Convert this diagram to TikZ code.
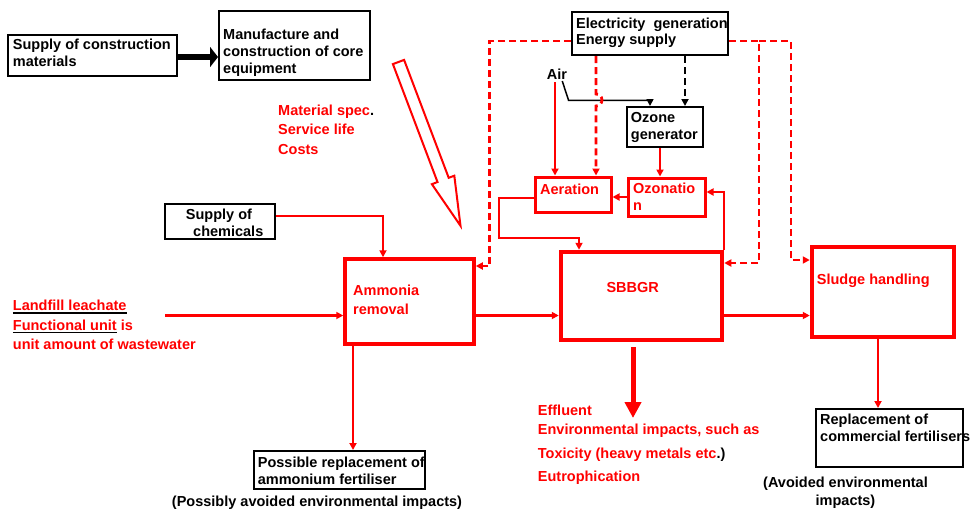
\documentclass[tikz,border=0pt]{standalone}
\usepackage{fontspec}
\setmainfont{Liberation Sans}
\usetikzlibrary{arrows.meta,calc}
\definecolor{rd}{RGB}{255,0,0}
\newcommand\blackul[1]{\setbox0=\hbox{#1}\rlap{\color{black}\rule[-3.2pt]{\wd0}{1.6pt}}\box0\relax}
\begin{document}
\begin{tikzpicture}[x=1pt,y=-1pt,
  font=\fontsize{14.5}{17}\selectfont\bfseries,
  bbox/.style={draw=black,line width=2pt,inner sep=0pt},
  rbox/.style={draw=rd,line width=3pt,inner sep=0pt},
  txt/.style={anchor=base west,inner sep=0pt,align=left},
  rtxt/.style={txt,text=rd},
  tip/.style={-{Triangle[length=7pt,width=7pt]}},
  ra/.style={draw=rd,line width=2pt,tip},
  rdash/.style={draw=rd,line width=2.8pt,dash pattern=on 7pt off 4pt,tip}
]
\useasboundingbox (0,0) rectangle (971,509);

% ---------- boxes ----------
\node[bbox,minimum width=169,minimum height=41] (sc) at (92.5,55.5) {};
\node[bbox,minimum width=151,minimum height=69] (mf) at (294.5,45.5) {};
\node[bbox,minimum width=156,minimum height=43] (el) at (650,33.5) {};
\node[bbox,minimum width=76,minimum height=40] (oz) at (665,127) {};
\node[rbox,minimum width=76,minimum height=35] (ae) at (573,194.5) {};
\node[rbox,minimum width=77,minimum height=38] (on) at (666.5,197) {};
\node[rbox,line width=4.5pt,minimum width=161,minimum height=88] (sb) at (641.5,296) {};
\node[rbox,line width=4.5pt,minimum width=142,minimum height=90] (sl) at (883,292) {};
\node[rbox,line width=3.5pt,minimum width=129,minimum height=85] (am) at (409.5,301.5) {};
\node[bbox,minimum width=110,minimum height=35] (ch) at (220,221.5) {};
\node[bbox,minimum width=171,minimum height=38] (pr) at (339.5,470) {};
\node[bbox,minimum width=147,minimum height=58] (rc) at (889.5,438) {};

% ---------- texts (anchor = baseline of last line) ----------
\node[txt] (tsc) at (12.7,66) {Supply of construction\\materials};
\node[txt] (tmf) at (223,73) {Manufacture and\\construction of core\\equipment};
\node[txt,font=\fontsize{14.5}{16}\selectfont\bfseries] (tel) at (576,44) {Electricity\ \ generation\\Energy supply};
\node[txt] (toz) at (630.7,139) {Ozone\\generator};
\node[txt] (air) at (546.7,79) {Air};
\node[rtxt] (tae) at (540,194) {Aeration};
\node[rtxt] (ton) at (633,210.7) {Ozonatio\\n};
\node[anchor=base,inner sep=0pt,text=rd] (tsb) at (632.7,292.7) {SBBGR};
\node[rtxt] (tsl) at (816.7,284) {Sludge handling};
\node[txt] (tch) at (185.7,236) {Supply of\\\hspace*{7.3pt}chemicals};
\node[rtxt,font=\fontsize{14.5}{19}\selectfont\bfseries] (tam) at (353,314) {Ammonia\\removal};
\node[rtxt,font=\fontsize{14.5}{19.3}\selectfont\bfseries] (tlf) at (12.7,349.3)
  {\blackul{Landfill leachate}\\\blackul{Functional unit} is\\unit amount of wastewater};
\node[rtxt,font=\fontsize{14.5}{19.5}\selectfont\bfseries] (tms) at (278,154)
  {Material spec{\color{black}.}\\Service life\\Costs};
\node[txt] (tpr) at (257.7,484) {Possible replacement of\\ammonium fertiliser};
\node[anchor=base,inner sep=0pt] (tpa) at (317,506) {(Possibly avoided environmental impacts)};
\node[txt] (trc) at (820,441.7) {Replacement of\\commercial fertilisers};
\node[anchor=base,inner sep=0pt,align=center,font=\fontsize{14.5}{18.4}\selectfont\bfseries] (tav) at (845.5,505.7) {(Avoided environmental\\impacts)};
\node[rtxt,font=\fontsize{14.5}{19}\selectfont\bfseries] (tef) at (537.7,481.7)
  {Effluent\\Environmental impacts, such as\\[5pt]Toxicity (heavy metals etc{\color{black}.)}\\[4.7pt]Eutrophication};

% ---------- connectors ----------
\draw[line width=6pt,-{Triangle[length=8pt,width=20pt]}] ($(sc.east)+(0,1.5)$) -- ($(mf.west |- sc.east)+(0,1.5)$);

\draw[ra] ($(ch.east)+(0,-5.8)$) -| ($(am.north)+(-26.5,0)$);
\coordinate (lf) at (165,315.5);
\draw[ra,line width=3pt] (lf) -- (am.west |- lf);
\draw[ra,line width=3pt] (am.east |- lf) -- (sb.west |- lf);
\draw[ra,line width=3pt] (sb.east |- lf) -- (sl.west |- lf);
\draw[ra] ($(am.south)+(-56.5,0)$) -- ($(pr.north)+(13.5,0)$);
\draw[ra] ($(sl.south)+(-5,0)$) -- ($(rc.north)+(-11.5,0)$);
\coordinate (eff) at (633,418);
\draw[draw=rd,line width=5pt,-{Triangle[length=16pt,width=16pt]}] ($(sb.south)+(-8.5,5)$) -- (eff);

\draw[ra] ($(oz.south)+(-5,0)$) -- ($(on.north)+(-6.5,0)$);
\draw[ra] (on.west) -- (ae.east |- on.west);
\draw[ra] (sb.north east) |- ($(on.east)+(0,-5)$);
\draw[ra] ($(ae.west)+(0,3.5)$) -- ++(-35,0) -- ++(0,40) -| ($(sb.north)+(-62.5,0)$);

\draw[ra] ($(air.base west)+(8.3,3)$) -- ($(ae.north)+(-18,0)$);
\draw[black,line width=1.5pt,tip] ($(air.base east)+(-5,2)$) -- ++(6.3,19.3) -| ($(oz.north)+(-15,0)$);
\draw[black,line width=2.5pt,dash pattern=on 7pt off 4pt,tip] ($(el.south)+(35,0)$) -- ($(oz.north)+(20,0)$);

\draw[rdash] ($(el.south)+(-54,0)$) -- ++(0,38) arc[start angle=-90,end angle=90,radius=6] -- ($(ae.north)+(23,0)$);
\draw[rdash] ($(el.west)+(0,7.5)$) -| ($(am.east)+(14,-35.5)$) -- ($(am.east)+(0,-35.5)$);
\draw[rdash] ($(el.east)+(0,7.5)$) -- ++(30,0) |- ($(sb.east)+(0,-33)$);
\draw[rdash] ($(el.east)+(30,7.5)$) -- ++(32,0) |- ($(sl.west)+(0,-32)$);

% ---------- hollow arrow ----------
\draw[rd,line width=2pt,line join=miter] (404.1,59.9) -- (392.9,64.1) -- (437.5,182.0) -- (431.9,184.2)
  -- (460.5,225.8) -- (454.3,175.7) -- (448.7,177.8) -- cycle;
\end{tikzpicture}
\end{document}
